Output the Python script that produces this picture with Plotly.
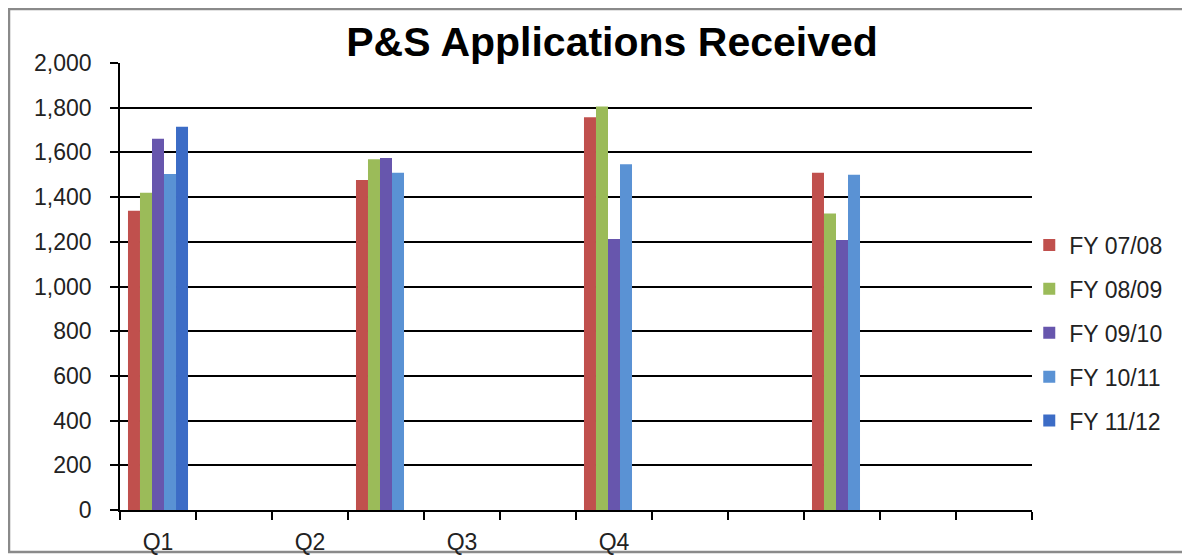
import plotly.graph_objects as go

# Quarterly P&S applications received, by fiscal year
quarters = ["Q1", "Q2", "Q3", "Q4"]
fy_0708 = [1339, 1476, 1757, 1509]
fy_0809 = [1420, 1569, 1805, 1327]
fy_0910 = [1661, 1575, 1212, 1208]
fy_1011 = [1503, 1509, 1547, 1500]
fy_1112 = [1715, None, None, None]

series_names = ["FY 07/08", "FY 08/09", "FY 09/10", "FY 10/11", "FY 11/12"]
series_values = [fy_0708, fy_0809, fy_0910, fy_1011, fy_1112]
colors = ["#C0504D", "#9BBB59", "#6756AD", "#5A92D4", "#3C6CC6"]

y_ticks = [0, 200, 400, 600, 800, 1000, 1200, 1400, 1600, 1800, 2000]

# the source sheet lays the axis out as 12 monthly slots: data sits every
# third slot, while the labels were placed every second slot
n_slots = 12
bar_slots = [3 * i for i in range(len(quarters))]
label_slots = [2 * i for i in range(len(quarters))]

gap = 0.21
bar_w = (1 - gap) / len(series_names)

fig = go.Figure()
for k, (name, vals, col) in enumerate(zip(series_names, series_values, colors)):
    fig.add_trace(go.Bar(
        x=bar_slots,
        y=vals,
        name=name,
        legendgroup=name,
        width=bar_w,
        offset=-(1 - gap) / 2 + k * bar_w,
        marker=dict(color=col, line=dict(width=0)),
    ))

# page body adds an 8px margin, so the figure is 8px smaller than the window
fig.update_layout(
    width=1182,
    height=548,
    barmode="overlay",
    margin=dict(l=112, r=158, t=55, b=46),
    paper_bgcolor="white",
    plot_bgcolor="white",
    font=dict(family="Liberation Sans, Arial, sans-serif", size=23, color="#222"),
    title=dict(
        text="<b>P&S Applications Received</b>",
        font=dict(size=41, color="black"),
        x=0.5395, xref="paper", xanchor="center",
        y=0.938, yanchor="middle",
    ),
    legend=dict(
        x=0.997, xanchor="left",
        y=0.396, yanchor="middle",
        font=dict(size=23),
        tracegroupgap=11,
        bgcolor="rgba(0,0,0,0)",
    ),
    xaxis=dict(
        range=[-0.5, n_slots - 0.5],
        tickvals=label_slots,
        ticktext=quarters,
        ticks="",
        ticklabelstandoff=10,
        automargin=False,
        showgrid=False,
        zeroline=False,
        showline=True,
        linecolor="black",
        linewidth=2,
        minor=dict(
            tickvals=[i - 0.5 for i in range(n_slots + 1)],
            ticks="outside",
            ticklen=8,
            tickwidth=1.5,
            tickcolor="black",
            showgrid=False,
        ),
    ),
    yaxis=dict(
        range=[0, 2000],
        tickvals=y_ticks,
        tickformat=",d",
        ticks="outside",
        ticklen=8,
        tickwidth=1.5,
        tickcolor="black",
        ticklabelstandoff=14,
        automargin=False,
        showgrid=True,
        gridcolor="black",
        gridwidth=1.5,
        zeroline=False,
        showline=True,
        linecolor="black",
        linewidth=1.5,
    ),
)

# outer chart border
fig.add_shape(
    type="rect", xref="paper", yref="paper",
    x0=-0.1217, x1=1.1689, y0=-0.094, y1=1.1208,
    line=dict(color="#8a8a8a", width=2.5),
    fillcolor="rgba(0,0,0,0)",
    layer="below",
)

fig.write_html("out.html")
